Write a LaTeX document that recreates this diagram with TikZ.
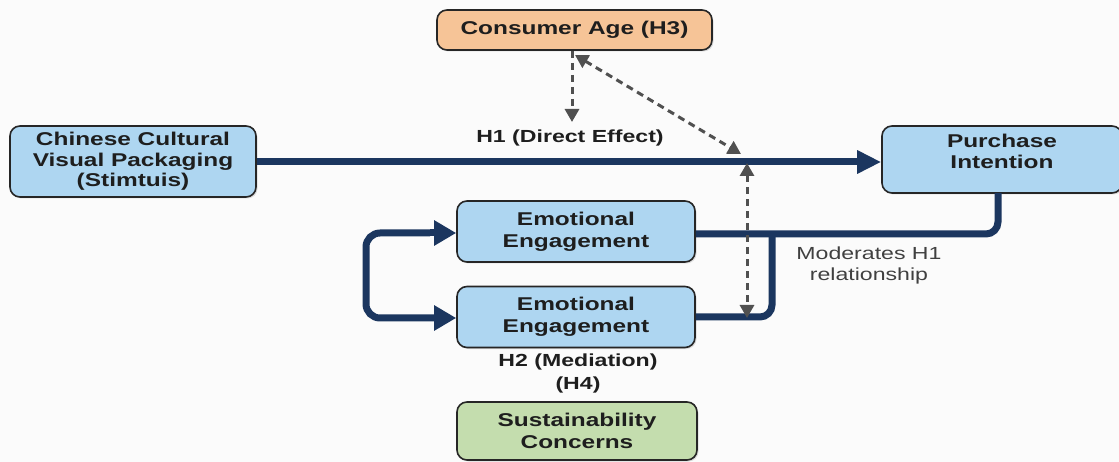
\documentclass[tikz,border=0pt]{standalone}
\usepackage{fontspec}
\setmainfont{Liberation Sans}[FakeStretch=1.32]
\usetikzlibrary{arrows.meta,shadows}
\definecolor{navy}{HTML}{1B365F}
\definecolor{boxblue}{HTML}{AED6F1}
\definecolor{boxpeach}{HTML}{F6C497}
\definecolor{boxgreen}{HTML}{C4DDAE}
\definecolor{dashgray}{HTML}{505050}
\definecolor{txt}{HTML}{1E1E1E}
\tikzset{
  box/.style={draw=black!85, line width=1.6pt, rounded corners=10pt, fill=boxblue,
    text=txt, font=\fontsize{18.5}{22}\selectfont\bfseries, align=center, inner sep=0pt,
    drop shadow={shadow xshift=1.5pt, shadow yshift=-1.5pt, opacity=0.25}},
  thick arrow/.style={draw=navy, line width=7pt, rounded corners=12pt},
  dash arrow/.style={draw=dashgray, line width=3pt, dash pattern=on 7pt off 5pt},
  dtip/.tip={Triangle[length=13pt,width=14pt]},
  lbl/.style={text=txt, font=\fontsize{17.5}{22}\selectfont\bfseries, align=center},
}
\begin{document}
\begin{tikzpicture}[x=1pt,y=-1pt]
\fill[white!97!gray] (0,0) rectangle (1119,462);
\useasboundingbox (0,0) rectangle (1119,462);

\node[box, fill=boxpeach, minimum width=275pt, minimum height=40pt] (age) at (574.5,30) {Consumer Age (H3)};
\node[box, minimum width=246pt, minimum height=71pt, font=\fontsize{18.5}{20.5}\selectfont\bfseries] (cc) at (133,161.5) {Chinese Cultural\\Visual Packaging\\(Stimtuis)};
\node[box, minimum width=240pt, minimum height=67pt, text depth=16pt, font=\fontsize{18.5}{21}\selectfont\bfseries] (pi) at (1002,159.5) {Purchase\\Intention};
\node[box, minimum width=238pt, minimum height=61pt] (ee1) at (576,231.5) {Emotional\\Engagement};
\node[box, minimum width=238pt, minimum height=61pt] (ee2) at (576,317) {Emotional\\Engagement};
\node[box, fill=boxgreen, minimum width=240pt, minimum height=58pt] (sc) at (577,431) {Sustainability\\Concerns};

\node[lbl] (h1) at (570,138) {H1 (Direct Effect)};
\node[lbl] (h2) at (578,362) {H2 (Mediation)};
\node[lbl] (h4) at (578,385) {(H4)};
\node[text=txt!85, font=\fontsize{17.5}{21}\selectfont, align=center] (mod) at (869,265) {Moderates H1\\relationship};

% main direct effect
\draw[navy, line width=7pt, -{Triangle[length=24pt,width=22pt]}] (cc.east |- 0,162) -- (pi.west |- 0,162);

% mediation paths to purchase intention
\coordinate (j1) at (772,234);
\draw[thick arrow] (ee1.east |- 0,234) -- (998,234) -- (998,193);
\draw[thick arrow] (ee2.east |- 0,317) -- (772,317) -- (j1);

% left loop
\draw[thick arrow, rounded corners=14pt, -{Triangle[length=22pt,width=24pt]}]
  (430,233) -- (366,233) -- (366,318) -- (ee2.west |- 0,318);
\draw[navy, line width=7pt, -{Triangle[length=22pt,width=24pt]}] (430,233) -- (ee1.west |- 0,233);

% moderation dashed arrows
\coordinate (m1) at (741,154);
\coordinate (m2) at (747,163);
\coordinate (m3) at (747,318);
\draw[dash arrow, -{dtip}] (572,51) -- (572,122);
\draw[dash arrow, {dtip}-{dtip}] (575,55) -- (m1);
\draw[dash arrow, {dtip}-{dtip}] (m2) -- (m3);
\end{tikzpicture}
\end{document}
